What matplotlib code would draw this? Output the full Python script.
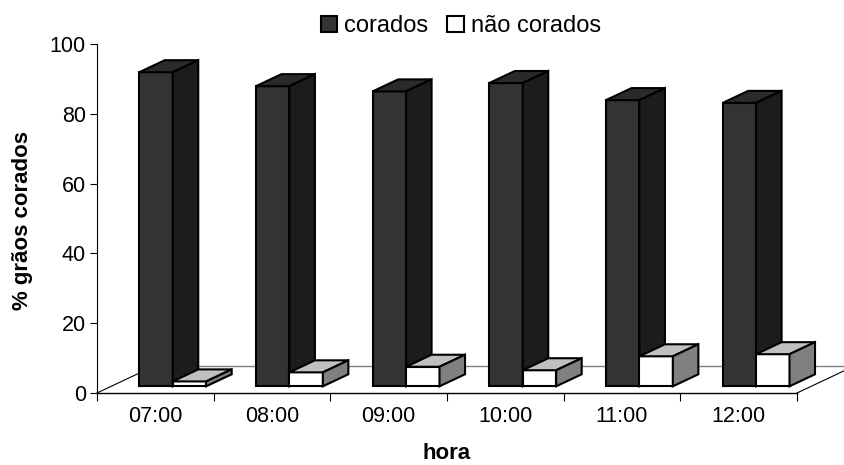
import matplotlib
matplotlib.use("Agg")
import matplotlib.pyplot as plt
from matplotlib.patches import Polygon, Patch

# data
horas = ["07:00", "08:00", "09:00", "10:00", "11:00", "12:00"]
corados = [90.0, 86.0, 84.5, 86.9, 82.0, 81.2]
nao_corados = [1.4, 4.0, 5.6, 4.6, 8.6, 9.2]

# oblique "3d" look: depth shift in data units
DX = 0.497     # category units for full floor depth
DY = 7.83      # value units for full floor depth
Z0, Z1 = 0.245, 0.685
BAR_W = 0.2866
BAR_OFF = 0.2408

plt.rcParams["font.family"] = ["Liberation Sans", "DejaVu Sans"]


def proj(x, y, z):
    return (x + z * DX, y + z * DY)


def draw_bar(ax, x0, v, colors, zo):
    x1 = x0 + BAR_W
    front = [proj(x0, 0, Z0), proj(x1, 0, Z0), proj(x1, v, Z0), proj(x0, v, Z0)]
    top = [proj(x0, v, Z0), proj(x1, v, Z0), proj(x1, v, Z1), proj(x0, v, Z1)]
    side = [proj(x1, 0, Z0), proj(x1, 0, Z1), proj(x1, v, Z1), proj(x1, v, Z0)]
    for pts, c in zip([front, top, side], colors):
        ax.add_patch(Polygon(pts, closed=True, facecolor=c, edgecolor="black",
                             lw=1.5, joinstyle="miter", zorder=zo, clip_on=False))


fig = plt.figure(figsize=(8.45, 4.65), dpi=100)
ax = fig.add_axes([97 / 845, 1 - 393 / 465, 700 / 845, 349 / 465])
ax.set_xlim(0, len(horas))
ax.set_ylim(0, 100)

# floor
n = len(horas)
ax.plot([0, DX], [0, DY], color="black", lw=0.8, clip_on=False, zorder=1)
ax.plot([n, n + DX], [0, DY], color="black", lw=0.8, clip_on=False, zorder=1)
ax.plot([DX, n + DX], [DY, DY], color="#808080", lw=1.0, clip_on=False, zorder=1)

dark = ["#333333", "#2a2a2a", "#1c1c1c"]
light = ["#ffffff", "#c0c0c0", "#808080"]
for i in range(n):
    draw_bar(ax, i + BAR_OFF, corados[i], dark, 3 + 2 * i)
    draw_bar(ax, i + BAR_OFF + BAR_W, nao_corados[i], light, 4 + 2 * i)

for s in ["top", "right"]:
    ax.spines[s].set_visible(False)
ax.spines["left"].set_color("black")
ax.spines["left"].set_linewidth(0.8)
ax.spines["bottom"].set_linewidth(1.0)

ax.set_yticks(range(0, 101, 20))
ax.tick_params(axis="y", length=5, width=0.8, pad=3, labelsize=15.5)
ax.set_xticks(range(n + 1))
ax.set_xticklabels([])
ax.set_xticks([i + 0.5 for i in range(n)], minor=True)
ax.set_xticklabels(horas, minor=True)
ax.tick_params(axis="x", which="major", length=6, width=0.8)
ax.tick_params(axis="x", which="minor", length=0, pad=9, labelsize=15.5)

fig.text(23 / 845, 1 - 220 / 465, "% grãos corados", rotation=90, ha="center",
         va="center", fontsize=16, fontweight="bold")
fig.text(447 / 845, 1.5 / 465, "hora", ha="center", va="bottom",
         fontsize=16, fontweight="bold")

handles = [Patch(facecolor="#333333", edgecolor="black", lw=1.5),
           Patch(facecolor="white", edgecolor="black", lw=1.5)]
fig.legend(handles, ["corados", "não corados"], loc="center",
           bbox_to_anchor=(461 / 845, 1 - 26 / 465), ncol=2, frameon=False,
           fontsize=17, handlelength=0.7, handleheight=0.65,
           handletextpad=0.3, columnspacing=0.8)

fig.savefig("out.png", dpi=100)
plt.close(fig)
